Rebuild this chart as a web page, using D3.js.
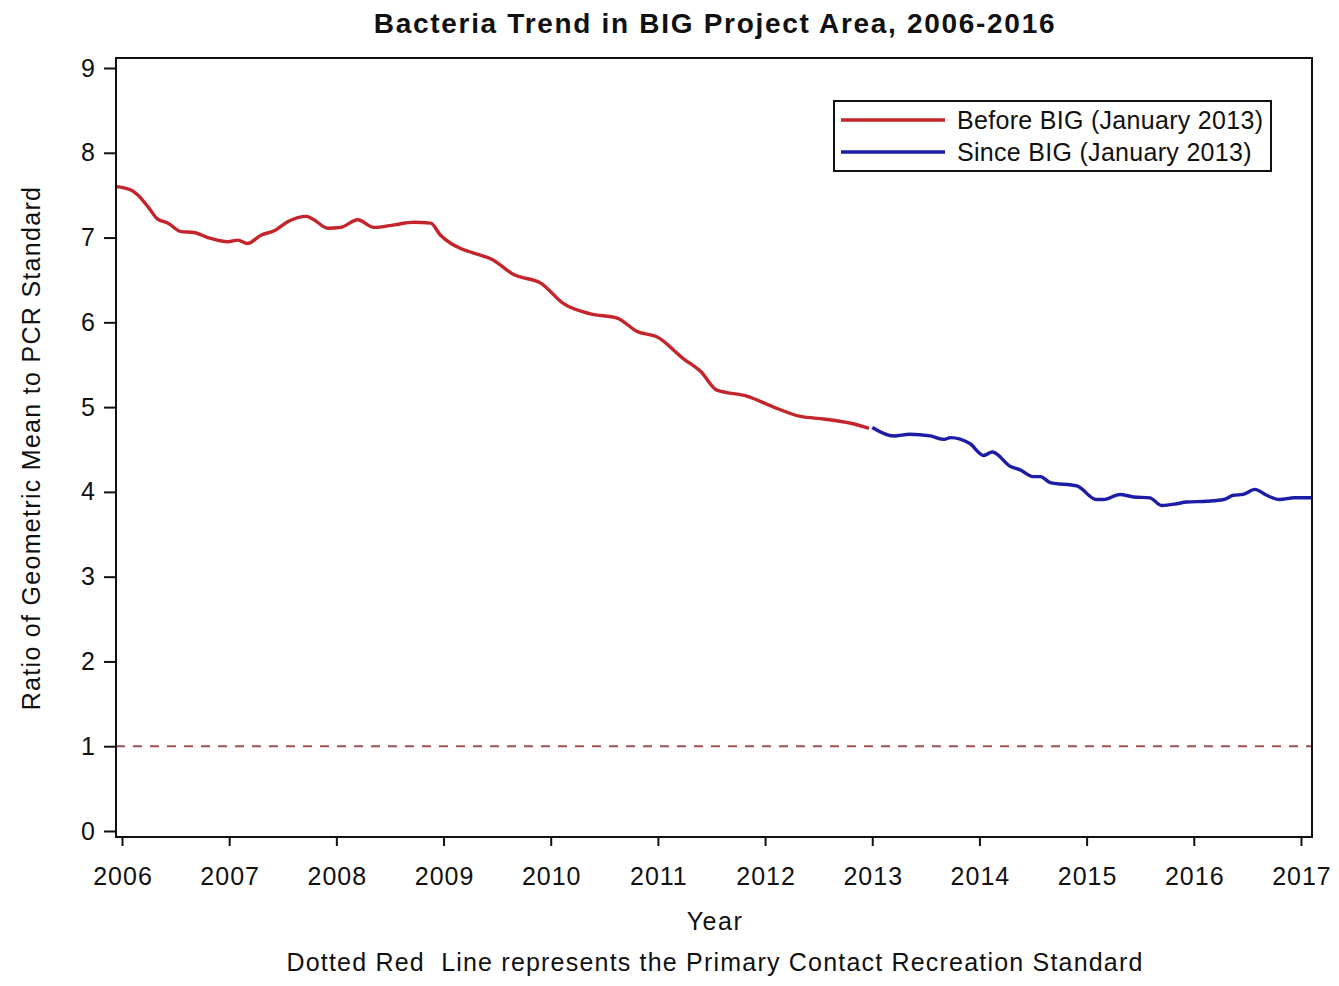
<!DOCTYPE html>
<html><head><meta charset="utf-8">
<script src="https://cdn.jsdelivr.net/npm/d3@7"></script>
<style>body{margin:0;background:#fff}svg{display:block}text{font-family:"Liberation Sans",Arial,sans-serif;fill:#111}</style>
</head><body><svg id="c" width="1339" height="986"></svg>
<script>
const title = "Bacteria Trend in BIG Project Area, 2006-2016";
const yLabel = "Ratio of Geometric Mean to PCR Standard";
const xLabel = "Year";
const footnote = "Dotted Red  Line represents the Primary Contact Recreation Standard";
const seriesNames = ["Before BIG (January 2013)", "Since BIG (January 2013)"];
const xTicks = [2006,2007,2008,2009,2010,2011,2012,2013,2014,2015,2016,2017];
const yTicks = [0,1,2,3,4,5,6,7,8,9];
const standardValue = 1;

const beforeYears = [2005.95,2006.10,2006.15,2006.25,2006.33,2006.43,2006.55,2006.67,2006.80,2006.99,2007.08,2007.17,2007.30,2007.42,2007.55,2007.72,2007.79,2007.92,2008.04,2008.20,2008.35,2008.54,2008.72,2008.88,2008.97,2009.07,2009.16,2009.35,2009.44,2009.66,2009.91,2010.12,2010.37,2010.62,2010.81,2010.99,2011.24,2011.40,2011.55,2011.83,2012.08,2012.33,2012.55,2012.80,2012.97];
const beforeValues = [7.60,7.55,7.50,7.35,7.22,7.17,7.07,7.06,7.00,6.95,6.97,6.93,7.03,7.08,7.19,7.25,7.21,7.11,7.12,7.21,7.12,7.15,7.18,7.17,7.03,6.93,6.87,6.79,6.75,6.56,6.46,6.22,6.10,6.05,5.89,5.83,5.57,5.42,5.20,5.13,5.00,4.89,4.86,4.81,4.75];
const sinceYears = [2013.00,2013.20,2013.35,2013.54,2013.67,2013.73,2013.91,2014.04,2014.12,2014.29,2014.38,2014.50,2014.57,2014.66,2014.91,2015.09,2015.16,2015.31,2015.44,2015.59,2015.70,2015.84,2015.93,2016.12,2016.28,2016.37,2016.46,2016.57,2016.68,2016.80,2016.94,2017.10];
const sinceValues = [4.76,4.66,4.68,4.66,4.62,4.64,4.57,4.43,4.47,4.30,4.26,4.18,4.18,4.11,4.07,3.91,3.91,3.97,3.94,3.93,3.84,3.86,3.88,3.89,3.91,3.96,3.97,4.03,3.96,3.91,3.93,3.93];

const colors = ["#c4242b", "#1c1ca6"];
const svg = d3.select("#c");
const L = 116, R = 1312, T = 58, B = 837;
const x = d3.scaleLinear().domain([2005.944, 2017.103]).range([L, R]);
const y = d3.scaleLinear().domain([0, 9]).range([831, 68]);

// reference line
svg.append("line").attr("x1", L).attr("x2", R).attr("y1", y(standardValue)).attr("y2", y(standardValue))
  .attr("stroke", "#a05252").attr("stroke-width", 2).attr("stroke-dasharray", "9,8");

const line = d3.line().x(d => x(d[0])).y(d => y(d[1])).curve(d3.curveMonotoneX);
svg.append("clipPath").attr("id", "clp").append("rect").attr("x", L).attr("y", T).attr("width", R - L).attr("height", B - T);
[[beforeYears, beforeValues], [sinceYears, sinceValues]].forEach((s, i) => {
  svg.append("path").datum(s[0].map((t, j) => [t, s[1][j]]))
    .attr("d", line).attr("fill", "none").attr("stroke", colors[i]).attr("stroke-width", 3.4)
    .attr("clip-path", "url(#clp)");
});

// frame
svg.append("rect").attr("x", L).attr("y", T).attr("width", R - L).attr("height", B - T)
  .attr("fill", "none").attr("stroke", "#111").attr("stroke-width", 2);

// axes
const yAxis = svg.append("g").attr("transform", `translate(${L},0)`)
  .call(d3.axisLeft(y).tickValues(yTicks).tickSize(12).tickPadding(9).tickFormat(d3.format("d")));
const xAxis = svg.append("g").attr("transform", `translate(0,${B})`)
  .call(d3.axisBottom(x).tickValues(xTicks).tickSize(9).tickPadding(21).tickFormat(d3.format("d")));
[yAxis, xAxis].forEach(a => {
  a.select(".domain").remove();
  a.selectAll(".tick line").attr("stroke", "#111").attr("stroke-width", 2);
  a.selectAll(".tick text").attr("font-size", 25).style("font-family", '"Liberation Sans", Arial, sans-serif').attr("fill", "#111");
});
xAxis.selectAll(".tick text").style("letter-spacing", "1px").attr("dx", "0.5px");

// title and labels
svg.append("text").attr("x", 715).attr("y", 33).attr("text-anchor", "middle")
  .attr("font-size", 28).attr("font-weight", "bold").style("letter-spacing", "1.7px").text(title);
svg.append("text").attr("transform", "translate(40,448) rotate(-90)").attr("text-anchor", "middle")
  .attr("font-size", 25).style("letter-spacing", "1.3px").text(yLabel);
svg.append("text").attr("x", 715).attr("y", 930).attr("text-anchor", "middle")
  .attr("font-size", 25).style("letter-spacing", "1.5px").text(xLabel);
svg.append("text").attr("x", 715).attr("y", 971).attr("text-anchor", "middle")
  .attr("font-size", 25).attr("xml:space", "preserve").style("white-space", "pre").style("letter-spacing", "1.2px").text(footnote);

// legend
const lg = svg.append("g");
lg.append("rect").attr("x", 834).attr("y", 101).attr("width", 437).attr("height", 70)
  .attr("fill", "#fff").attr("stroke", "#111").attr("stroke-width", 2);
seriesNames.forEach((n, i) => {
  const yy = 120 + i * 32;
  lg.append("line").attr("x1", 841).attr("x2", 945).attr("y1", yy).attr("y2", yy)
    .attr("stroke", colors[i]).attr("stroke-width", 3.4);
  lg.append("text").attr("x", 957).attr("y", yy + 9).attr("font-size", 25).style("letter-spacing", "0.3px").text(n);
});
</script></body></html>
